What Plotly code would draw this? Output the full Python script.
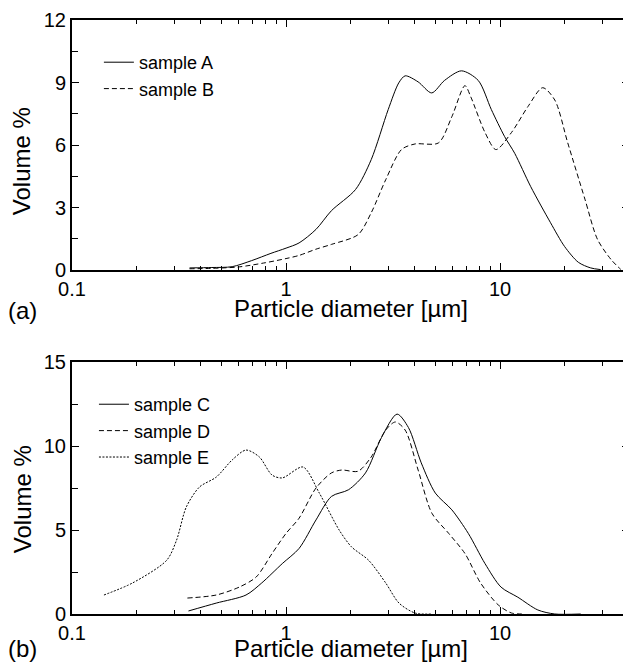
import numpy as np
import plotly.graph_objects as go

# (a) particle size distributions, diameter in um / volume %
d_a = [0.354, 0.45, 0.56, 0.69, 0.85, 1.0, 1.15, 1.38, 1.63, 2.11, 2.5, 3.0, 3.36, 3.6,
       4.14, 4.79, 5.5, 6.6, 7.9, 9.1, 10.5, 11.7, 13.9, 17.2, 20.0, 23.2, 26.5, 29.5]
vol_a = [0.1, 0.12, 0.16, 0.45, 0.8, 1.05, 1.3, 1.95, 2.85, 3.86, 5.3, 7.7, 8.98, 9.32,
         9.03, 8.5, 9.1, 9.56, 9.1, 7.7, 6.4, 5.6, 4.0, 2.27, 1.13, 0.37, 0.1, 0.02]

d_b = [0.354, 0.45, 0.604, 0.8, 1.0, 1.15, 1.38, 1.63, 2.17, 2.5, 2.92, 3.46, 4.0, 5.15,
       5.95, 6.85, 7.3, 8.5, 9.56, 11.3, 13.5, 15.8, 18.0, 20.7, 24.9, 28.5, 33.0, 36.6]
vol_b = [0.06, 0.08, 0.15, 0.35, 0.55, 0.7, 1.0, 1.23, 1.7, 2.75, 4.33, 5.78, 6.05, 6.1,
         7.36, 8.85, 8.3, 6.6, 5.78, 6.6, 7.85, 8.75, 8.16, 6.1, 3.4, 1.47, 0.5, 0.03]

# (b)
d_c = [0.35, 0.472, 0.65, 0.77, 0.96, 1.15, 1.38, 1.63, 1.96, 2.35, 2.79, 3.3, 3.73,
       4.28, 4.98, 5.95, 7.1, 8.5, 10.1, 12.1, 15.0, 18.0, 23.8]
vol_c = [0.18, 0.65, 1.13, 1.85, 3.0, 3.9, 5.6, 7.0, 7.4, 8.4, 10.5, 11.9, 11.1,
         9.0, 7.2, 6.2, 4.8, 3.0, 1.6, 1.0, 0.24, 0.0, 0.0]

d_d = [0.346, 0.472, 0.604, 0.725, 0.86, 1.0, 1.15, 1.38, 1.63, 1.82, 2.17, 2.5, 2.92,
       3.24, 3.6, 4.14, 4.8, 5.75, 6.85, 8.1, 9.8, 11.3, 13.0]
vol_d = [0.95, 1.13, 1.6, 2.2, 3.6, 4.8, 5.7, 7.5, 8.4, 8.57, 8.5, 9.35, 10.95,
         11.43, 10.95, 8.57, 6.0, 4.8, 3.6, 1.85, 0.54, 0.06, 0.0]

d_e = [0.141, 0.192, 0.277, 0.308, 0.342, 0.394, 0.472, 0.56, 0.65, 0.75, 0.86, 0.96,
       1.2, 1.43, 1.77, 2.02, 2.43, 2.92, 3.37, 4.0, 4.8]
vol_e = [1.13, 1.85, 3.2, 4.4, 6.37, 7.56, 8.15, 9.17, 9.76, 9.35, 8.27, 8.1,
         8.75, 7.2, 5.0, 4.0, 3.2, 1.85, 0.65, 0.06, 0.0]

x_ticks = [0.1, 1, 10]
x_ticktext = ["0.1", "1", "10"]
x_minor = [m * 10.0 ** k for k in (-1, 0, 1) for m in range(2, 10) if m * 10.0 ** k <= 40]

FONT = "Liberation Sans, Arial, sans-serif"

fig = go.Figure()

fig.add_trace(go.Scatter(x=d_a, y=vol_a, name="sample A", mode="lines",
                         line=dict(color="black", width=1, shape="spline", smoothing=0.8),
                         xaxis="x", yaxis="y", legend="legend"))
fig.add_trace(go.Scatter(x=d_b, y=vol_b, name="sample B", mode="lines",
                         line=dict(color="black", width=1, dash="5px,3px",
                                   shape="spline", smoothing=0.8),
                         xaxis="x", yaxis="y", legend="legend"))

fig.add_trace(go.Scatter(x=d_c, y=vol_c, name="sample C", mode="lines",
                         line=dict(color="black", width=1, shape="spline", smoothing=0.8),
                         xaxis="x2", yaxis="y2", legend="legend2"))
fig.add_trace(go.Scatter(x=d_d, y=vol_d, name="sample D", mode="lines",
                         line=dict(color="black", width=1, dash="5px,3px",
                                   shape="spline", smoothing=0.8),
                         xaxis="x2", yaxis="y2", legend="legend2"))
fig.add_trace(go.Scatter(x=d_e, y=vol_e, name="sample E", mode="lines",
                         line=dict(color="black", width=1, dash="2px,1.5px",
                                   shape="spline", smoothing=0.8),
                         xaxis="x2", yaxis="y2", legend="legend2"))

xaxis_common = dict(
    type="log", range=[-1, np.log10(40)],
    tickmode="array", tickvals=x_ticks, ticktext=x_ticktext,
    ticks="inside", ticklen=7, tickwidth=1, tickcolor="black",
    minor=dict(tickmode="array", tickvals=x_minor, ticks="inside",
               ticklen=4, tickwidth=1, tickcolor="black", showgrid=False),
    showline=True, linecolor="black", linewidth=2, mirror="ticks",
    showgrid=False, zeroline=False,
    tickfont=dict(family=FONT, size=20, color="black"),
)


def yaxis_common(top, step, domain):
    return dict(
        range=[0, top], domain=domain, tickmode="linear", tick0=0, dtick=step,
        ticks="inside", ticklen=7, tickwidth=1, tickcolor="black",
        minor=dict(tickmode="linear", tick0=0, dtick=step / 2, ticks="inside",
                   ticklen=6, tickwidth=1, tickcolor="black", showgrid=False),
        showline=True, linecolor="black", linewidth=2, mirror="ticks",
        showgrid=False, zeroline=False,
        tickfont=dict(family=FONT, size=20, color="black"),
    )


legend_common = dict(
    bgcolor="rgba(0,0,0,0)", borderwidth=0,
    font=dict(family=FONT, size=18, color="black"),
    xanchor="left", yanchor="top", tracegroupgap=0, itemwidth=30,
)

# the page body adds an 8px offset, so the figure is sized to fit the window
fig.update_layout(
    width=623, height=655,
    margin=dict(l=64, r=0, t=12, b=49),
    paper_bgcolor="white", plot_bgcolor="white",
    xaxis=dict(xaxis_common, anchor="y"),
    yaxis=yaxis_common(12, 3, [0.5791, 1.0]),
    xaxis2=dict(xaxis_common, anchor="y2"),
    yaxis2=dict(yaxis_common(15, 5, [0.0, 0.4242]), anchor="x2"),
    legend=dict(legend_common, x=0.0483, y=0.9596),
    legend2=dict(legend_common, x=0.0394, y=0.3838),
)

# axis titles and panel labels, positions in window pixels
ann_font = dict(family=FONT, size=24, color="black")
annotations = [
    dict(text="Volume %", x=22, y=161, textangle=-90),
    dict(text="Volume %", x=22, y=499, textangle=-90),
    dict(text="Particle diameter [µm]", x=352, y=309),
    dict(text="Particle diameter [µm]", x=352, y=648),
    dict(text="(a)", x=22, y=310),
    dict(text="(b)", x=22, y=648),
]
for a in annotations:
    # convert window pixels to paper coordinates
    fig.add_annotation(
        text=a["text"], textangle=a.get("textangle", 0),
        xref="paper", yref="paper",
        x=(a["x"] - 72) / 559, y=(614 - a["y"]) / 594,
        xanchor="center", yanchor="middle", showarrow=False,
        font=ann_font,
    )

fig.write_html("out.html")
